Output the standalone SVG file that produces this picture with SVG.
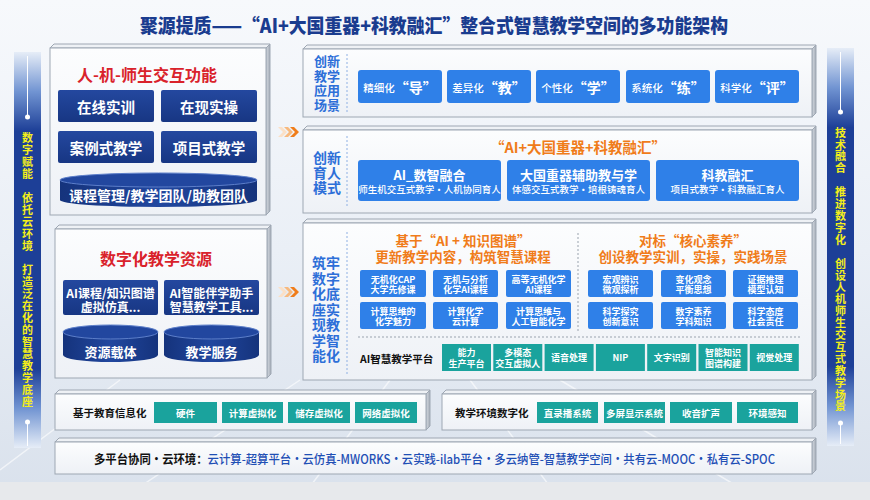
<svg xmlns="http://www.w3.org/2000/svg" width="870" height="500" viewBox="0 0 870 500">
<defs>
<linearGradient id="bg" x1="0" y1="0" x2="0" y2="1"><stop offset="0" stop-color="#f7f9fc"/><stop offset="0.5" stop-color="#eaeff6"/><stop offset="1" stop-color="#d9e1ec"/></linearGradient>
<linearGradient id="front" x1="0" y1="0" x2="0" y2="1"><stop offset="0" stop-color="#fcfdfe"/><stop offset="1" stop-color="#eef1f6"/></linearGradient>
<linearGradient id="side" x1="0" y1="0" x2="1" y2="0"><stop offset="0" stop-color="#d6dbe2"/><stop offset="1" stop-color="#a3abb6"/></linearGradient>
<linearGradient id="bar" x1="0" y1="0" x2="0" y2="1"><stop offset="0" stop-color="#e6edf7"/><stop offset="0.1" stop-color="#7194d2"/><stop offset="0.2" stop-color="#1d3f97"/><stop offset="0.8" stop-color="#1d3f97"/><stop offset="0.9" stop-color="#7194d2"/><stop offset="1" stop-color="#e6edf7"/></linearGradient>
<linearGradient id="navy" x1="0" y1="0" x2="0" y2="1"><stop offset="0" stop-color="#24489f"/><stop offset="1" stop-color="#173683"/></linearGradient>
<linearGradient id="cyl" x1="0" y1="0" x2="1" y2="0"><stop offset="0" stop-color="#15337c"/><stop offset="0.5" stop-color="#21479f"/><stop offset="1" stop-color="#15337c"/></linearGradient>
<g id="chev"><polygon points="0,0 4,0 9,5 4,10 0,10 5,5" fill="#fbe0c6"/><polygon points="6,0 10,0 15,5 10,10 6,10 11,5" fill="#f7b97e"/><polygon points="12,0 16,0 21,5 16,10 12,10 17,5" fill="#f07d1a"/></g>
</defs>
<style>
text{font-family:'Noto Sans CJK SC','Noto Sans',sans-serif}
.fr{fill:url(#front);stroke:#9ea7b3;stroke-width:1}
.tp{fill:#eef1f5;stroke:#9ea7b3;stroke-width:1}
.sd{fill:url(#side);stroke:#9ea7b3;stroke-width:1}
.navy{fill:url(#navy)}
.blue{fill:#2f80e8}
.teal{fill:#1aa39d}
.cb{fill:url(#cyl)}
.ct{fill:#22479f;stroke:#5c7ec9;stroke-width:1}
.wt{fill:#fff;font-weight:700;text-anchor:middle;dominant-baseline:central}
.lbl{fill:#2d6fd8;font-weight:700;text-anchor:middle;dominant-baseline:central}
.or{fill:#f07c1a;font-weight:700;text-anchor:middle;dominant-baseline:central}
.red{fill:#d9222b;font-weight:700;text-anchor:middle;dominant-baseline:central}
.blk{fill:#111;font-weight:700;dominant-baseline:central}
.dash{stroke:#8fb0e3;stroke-width:1;stroke-dasharray:2 2;fill:none}
.dot{stroke:#9aa3ae;stroke-width:1;stroke-dasharray:2 2;fill:none}
.vv{fill:#f4ef1a;font-weight:700;font-size:11px;writing-mode:vertical-rl}
</style>
<rect x="0" y="0" width="870" height="500" fill="url(#bg)"/>
<g stroke="#ffffff" stroke-opacity="0.6" stroke-width="1.5" fill="none">
<path d="M120,500 L300,380 M300,500 L390,380 M560,500 L470,380 M760,500 L560,380 M0,470 L120,380"/>
</g>
<rect x="0" y="482" width="870" height="18" fill="#e7e9ec"/>

<text x="140" y="24" font-size="19.5" font-weight="900" fill="#1a3c8f" textLength="588" lengthAdjust="spacingAndGlyphs" dominant-baseline="central">聚源提质——“AI+大国重器+科教融汇”整合式智慧教学空间的多功能架构</text>

<g id="leftbar">
<rect x="14" y="52" width="27" height="396" fill="url(#bar)"/>
<line x1="27.5" y1="56" x2="27.5" y2="117" stroke="#fff" stroke-width="1"/>
<circle cx="27.5" cy="117" r="2.5" fill="#fff"/>
<line x1="27.5" y1="422" x2="27.5" y2="446" stroke="#fff" stroke-width="1"/>
<circle cx="27.5" cy="422" r="2.5" fill="#fff"/>
<text class="vv" x="27.5" y="132" letter-spacing="1">数字赋能</text>
<text class="vv" x="27.5" y="192" letter-spacing="1">依托云环境</text>
<text class="vv" x="27.5" y="264" letter-spacing="1">打造泛在化的智慧教学底座</text>
</g>

<g id="rightbar">
<rect x="827" y="48" width="27" height="398" fill="url(#bar)"/>
<line x1="840.5" y1="52" x2="840.5" y2="112" stroke="#fff" stroke-width="1"/>
<circle cx="840.5" cy="112" r="2.5" fill="#fff"/>
<line x1="840.5" y1="423" x2="840.5" y2="444" stroke="#fff" stroke-width="1"/>
<circle cx="840.5" cy="423" r="2.5" fill="#fff"/>
<text class="vv" x="840.5" y="127" letter-spacing="0.9">技术融合</text>
<text class="vv" x="840.5" y="186.5" letter-spacing="0.9">推进数字化</text>
<text class="vv" x="840.5" y="258" letter-spacing="0.9">创设人机师生交互式教学场景</text>
</g>

<g id="panel-interaction">
<polygon class="tp" points="50,48 54,44 270,44 266,48"/>
<polygon class="sd" points="266,48 270,44 270,211 266,215"/>
<rect class="fr" x="50" y="48" width="216" height="167"/>
<text class="red" x="147" y="74" font-size="16">人-机-师生交互功能</text>
<rect class="navy" x="58" y="90" width="96" height="32" rx="2"/>
<rect class="navy" x="161" y="90" width="96" height="32" rx="2"/>
<rect class="navy" x="58" y="131" width="96" height="32" rx="2"/>
<rect class="navy" x="161" y="131" width="96" height="32" rx="2"/>
<text class="wt" x="106" y="106" font-size="14.5">在线实训</text>
<text class="wt" x="209" y="106" font-size="14.5">在现实操</text>
<text class="wt" x="106" y="147" font-size="14.5">案例式教学</text>
<text class="wt" x="209" y="147" font-size="14.5">项目式教学</text>
<path class="cb" d="M60,180 L60,200 A98.5,7 0 0 0 257,200 L257,180 Z"/>
<ellipse class="ct" cx="158.5" cy="180" rx="98.5" ry="7"/>
<text class="wt" x="158.5" y="195" font-size="14">课程管理/教学团队/助教团队</text>
</g>

<g id="panel-resources">
<polygon class="tp" points="55,229 59,225 271,225 267,229"/>
<polygon class="sd" points="267,229 271,225 271,374 267,378"/>
<rect class="fr" x="55" y="229" width="212" height="149"/>
<text class="red" x="156" y="258" font-size="16">数字化教学资源</text>
<rect class="navy" x="63" y="280" width="95" height="35" rx="2"/>
<rect class="navy" x="164" y="280" width="95" height="35" rx="2"/>
<text class="wt" font-size="12"><tspan x="110.5" y="291.5">AI课程/知识图谱</tspan><tspan x="110.5" y="305.5">虚拟仿真...</tspan></text>
<text class="wt" font-size="12"><tspan x="211.5" y="291.5">AI智能伴学助手</tspan><tspan x="211.5" y="305.5">智慧教学工具...</tspan></text>
<path class="cb" d="M63,332 L63,355 A47.5,7 0 0 0 158,355 L158,332 Z"/>
<ellipse class="ct" cx="110.5" cy="332" rx="47.5" ry="7"/>
<path class="cb" d="M164,332 L164,355 A47.5,7 0 0 0 259,355 L259,332 Z"/>
<ellipse class="ct" cx="211.5" cy="332" rx="47.5" ry="7"/>
<text class="wt" x="110.5" y="351" font-size="13">资源载体</text>
<text class="wt" x="211.5" y="351" font-size="13">教学服务</text>
</g>

<g id="connectors">
<use href="#chev" x="278" y="127"/>
<use href="#chev" x="278" y="287"/>
</g>

<g id="panel-scenes">
<polygon class="tp" points="303,49 307,45 816,45 812,49"/>
<polygon class="sd" points="812,49 816,45 816,113 812,117"/>
<rect class="fr" x="303" y="49" width="509" height="68"/>
<text class="lbl" font-size="13"><tspan x="327" y="60">创新</tspan><tspan x="327" y="74.5">教学</tspan><tspan x="327" y="89">应用</tspan><tspan x="327" y="103.5">场景</tspan></text>
<line class="dash" x1="347" y1="54" x2="347" y2="112"/>
<rect class="blue" x="358" y="70" width="84" height="33" rx="3"/>
<rect class="blue" x="447" y="70" width="84" height="33" rx="3"/>
<rect class="blue" x="536" y="70" width="84" height="33" rx="3"/>
<rect class="blue" x="626" y="70" width="84" height="33" rx="3"/>
<rect class="blue" x="715" y="70" width="84" height="33" rx="3"/>
<text class="wt" x="400" y="86.5"><tspan font-size="10.5" font-weight="500">精细化</tspan><tspan font-size="14">“导”</tspan></text>
<text class="wt" x="489" y="86.5"><tspan font-size="10.5" font-weight="500">差异化</tspan><tspan font-size="14">“教”</tspan></text>
<text class="wt" x="578" y="86.5"><tspan font-size="10.5" font-weight="500">个性化</tspan><tspan font-size="14">“学”</tspan></text>
<text class="wt" x="668" y="86.5"><tspan font-size="10.5" font-weight="500">系统化</tspan><tspan font-size="14">“练”</tspan></text>
<text class="wt" x="757" y="86.5"><tspan font-size="10.5" font-weight="500">科学化</tspan><tspan font-size="14">“评”</tspan></text>
</g>

<g id="panel-mode">
<polygon class="tp" points="303,130 307,126 816,126 812,130"/>
<polygon class="sd" points="812,130 816,126 816,209 812,213"/>
<rect class="fr" x="303" y="130" width="509" height="83"/>
<text class="lbl" font-size="14"><tspan x="327" y="157">创新</tspan><tspan x="327" y="172">育人</tspan><tspan x="327" y="187">模式</tspan></text>
<line class="dash" x1="347" y1="136" x2="347" y2="208"/>
<text class="or" x="578" y="146" font-size="14.5">“AI+大国重器+科教融汇”</text>
<rect class="blue" x="358" y="160" width="143" height="41" rx="3"/>
<rect class="blue" x="507" y="160" width="143" height="41" rx="3"/>
<rect class="blue" x="656" y="160" width="143" height="41" rx="3"/>
<text class="wt"><tspan x="429.5" y="173.5" font-size="13">AI_数智融合</tspan><tspan x="429.5" y="188.5" font-size="9.5" font-weight="500">师生机交互式教学·人机协同育人</tspan></text>
<text class="wt"><tspan x="578.5" y="173.5" font-size="13">大国重器辅助教与学</tspan><tspan x="578.5" y="188.5" font-size="9.5" font-weight="500">体感交互式教学·培根铸魂育人</tspan></text>
<text class="wt"><tspan x="727.5" y="173.5" font-size="13">科教融汇</tspan><tspan x="727.5" y="188.5" font-size="9.5" font-weight="500">项目式教学·科教融汇育人</tspan></text>
</g>

<g id="panel-base">
<polygon class="tp" points="303,223 307,219 816,219 812,223"/>
<polygon class="sd" points="812,223 816,219 816,376 812,380"/>
<rect class="fr" x="303" y="223" width="509" height="157"/>
<text class="lbl" font-size="14"><tspan x="326" y="262">筑牢</tspan><tspan x="326" y="277.5">数字</tspan><tspan x="326" y="293">化底</tspan><tspan x="326" y="308.5">座实</tspan><tspan x="326" y="324">现教</tspan><tspan x="326" y="339.5">学智</tspan><tspan x="326" y="355">能化</tspan></text>
<line class="dash" x1="347" y1="232" x2="347" y2="374"/>
<line class="dot" x1="578" y1="233" x2="578" y2="331"/>
<line class="dot" x1="358" y1="337" x2="800" y2="337"/>
<text class="or" font-size="13.5"><tspan x="463" y="240">基于“AI + 知识图谱”</tspan><tspan x="463" y="256">更新教学内容，构筑智慧课程</tspan></text>
<text class="or" font-size="13.5"><tspan x="693" y="240">对标“核心素养”</tspan><tspan x="693" y="256">创设教学实训，实操，实践场景</tspan></text>
<g class="blue">
<rect x="360" y="270" width="66" height="27" rx="2"/><rect x="433" y="270" width="65" height="27" rx="2"/><rect x="506" y="270" width="65" height="27" rx="2"/>
<rect x="588" y="270" width="65" height="27" rx="2"/><rect x="661" y="270" width="65" height="27" rx="2"/><rect x="733" y="270" width="65" height="27" rx="2"/>
<rect x="360" y="302" width="66" height="27" rx="2"/><rect x="433" y="302" width="65" height="27" rx="2"/><rect x="506" y="302" width="65" height="27" rx="2"/>
<rect x="588" y="302" width="65" height="27" rx="2"/><rect x="661" y="302" width="65" height="27" rx="2"/><rect x="733" y="302" width="65" height="27" rx="2"/>
</g>
<g font-size="9">
<text class="wt"><tspan x="393" y="278.5">无机化CAP</tspan><tspan x="393" y="289">大学先修课</tspan></text>
<text class="wt"><tspan x="465.5" y="278.5">无机与分析</tspan><tspan x="465.5" y="289">化学AI课程</tspan></text>
<text class="wt"><tspan x="538.5" y="278.5">高等无机化学</tspan><tspan x="538.5" y="289">AI课程</tspan></text>
<text class="wt"><tspan x="620.5" y="278.5">宏观辨识</tspan><tspan x="620.5" y="289">微观探析</tspan></text>
<text class="wt"><tspan x="693.5" y="278.5">变化观念</tspan><tspan x="693.5" y="289">平衡思想</tspan></text>
<text class="wt"><tspan x="765.5" y="278.5">证据推理</tspan><tspan x="765.5" y="289">模型认知</tspan></text>
<text class="wt"><tspan x="393" y="310.5">计算思维的</tspan><tspan x="393" y="321">化学魅力</tspan></text>
<text class="wt"><tspan x="465.5" y="310.5">计算化学</tspan><tspan x="465.5" y="321">云计算</tspan></text>
<text class="wt"><tspan x="538.5" y="310.5">计算思维与</tspan><tspan x="538.5" y="321">人工智能化学</tspan></text>
<text class="wt"><tspan x="620.5" y="310.5">科学探究</tspan><tspan x="620.5" y="321">创新意识</tspan></text>
<text class="wt"><tspan x="693.5" y="310.5">数字素养</tspan><tspan x="693.5" y="321">学科知识</tspan></text>
<text class="wt"><tspan x="765.5" y="310.5">科学态度</tspan><tspan x="765.5" y="321">社会责任</tspan></text>
</g>
<text class="blk" x="360" y="358" font-size="10.5">AI智慧教学平台</text>
<g class="teal">
<rect x="442" y="344" width="49" height="27"/><rect x="493.3" y="344" width="49" height="27"/><rect x="544.6" y="344" width="49" height="27"/><rect x="595.9" y="344" width="49" height="27"/><rect x="647.2" y="344" width="49" height="27"/><rect x="698.5" y="344" width="49" height="27"/><rect x="749.8" y="344" width="49" height="27"/>
</g>
<g font-size="9">
<text class="wt"><tspan x="466.5" y="352">能力</tspan><tspan x="466.5" y="363">生产平台</tspan></text>
<text class="wt"><tspan x="517.8" y="352">多模态</tspan><tspan x="517.8" y="363">交互虚拟人</tspan></text>
<text class="wt" x="569.1" y="357.5">语音处理</text>
<text class="wt" x="620.4" y="357.5">NIP</text>
<text class="wt" x="671.7" y="357.5">文字识别</text>
<text class="wt"><tspan x="723" y="352">智能知识</tspan><tspan x="723" y="363">图谱构建</tspan></text>
<text class="wt" x="774.3" y="357.5">视觉处理</text>
</g>
</g>

<g id="panel-info">
<polygon class="tp" points="55,394 59,390 430,390 426,394"/>
<polygon class="sd" points="426,394 430,390 430,426 426,430"/>
<rect class="fr" x="55" y="394" width="371" height="36"/>
<text class="blk" x="73" y="412" font-size="10.5">基于教育信息化</text>
<g class="teal"><rect x="154" y="402" width="63" height="21"/><rect x="222" y="402" width="61" height="21"/><rect x="288" y="402" width="62" height="21"/><rect x="355" y="402" width="62" height="21"/></g>
<g font-size="9.5"><text class="wt" x="185.5" y="412.5">硬件</text><text class="wt" x="252.5" y="412.5">计算虚拟化</text><text class="wt" x="319" y="412.5">储存虚拟化</text><text class="wt" x="386" y="412.5">网络虚拟化</text></g>
</g>

<g id="panel-env">
<polygon class="tp" points="442,394 446,390 816,390 812,394"/>
<polygon class="sd" points="812,394 816,390 816,426 812,430"/>
<rect class="fr" x="442" y="394" width="370" height="36"/>
<text class="blk" x="455" y="412" font-size="10.5">教学环境数字化</text>
<g class="teal"><rect x="537" y="402" width="61" height="21"/><rect x="604" y="402" width="61" height="21"/><rect x="670" y="402" width="62" height="21"/><rect x="737" y="402" width="61" height="21"/></g>
<g font-size="9.5"><text class="wt" x="567.5" y="412.5">直录播系统</text><text class="wt" x="634.5" y="412.5">多屏显示系统</text><text class="wt" x="701" y="412.5">收音扩声</text><text class="wt" x="767.5" y="412.5">环境感知</text></g>
</g>

<g id="panel-cloud">
<polygon class="tp" points="55,442 59,438 816,438 812,442"/>
<polygon class="sd" points="812,442 816,438 816,470 812,474"/>
<rect class="fr" x="55" y="442" width="757" height="32"/>
<text x="94" y="458" font-size="12.5" textLength="681" lengthAdjust="spacingAndGlyphs" dominant-baseline="central"><tspan fill="#111" font-weight="700">多平台协同·云环境：</tspan><tspan fill="#1f4fb5" font-weight="500">云计算-超算平台·云仿真-MWORKS·云实践-ilab平台·多云纳管-智慧教学空间·共有云-MOOC·私有云-SPOC</tspan></text>
</g>
</svg>
